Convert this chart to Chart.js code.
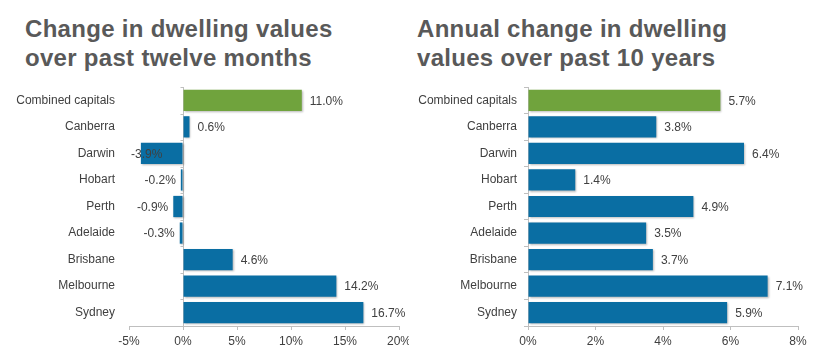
<!DOCTYPE html>
<html>
<head>
<meta charset="utf-8">
<script src="https://cdn.jsdelivr.net/npm/chart.js@4"></script>
<style>
  html, body { margin: 0; padding: 0; background: #fff; }
  body { width: 818px; height: 357px; position: relative; overflow: hidden; }
  .title { position: absolute; top: 14px; font-family: "Liberation Sans", Arial, sans-serif; font-weight: bold; font-size: 24px; line-height: 29px; letter-spacing: 0.3px; color: #595959; white-space: nowrap; }
  .box { position: absolute; top: 80px; width: 409px; height: 277px; }
</style>
</head>
<body>
<div class="title" style="left:25px">Change in dwelling values<br>over past twelve months</div>
<div class="title" style="left:417px">Annual change in dwelling<br>values over past 10 years</div>
<div class="box" style="left:0px"><canvas id="c1"></canvas></div>
<div class="box" style="left:409px"><canvas id="c2"></canvas></div>
<script>
const categories = ["Combined capitals", "Canberra", "Darwin", "Hobart", "Perth", "Adelaide", "Brisbane", "Melbourne", "Sydney"];
const twelveMonthChange = [11.0, 0.6, -3.9, -0.2, -0.9, -0.3, 4.6, 14.2, 16.7];
const tenYearAnnualChange = [5.7, 3.8, 6.4, 1.4, 4.9, 3.5, 3.7, 7.1, 5.9];
const leftTicks = [-5, 0, 5, 10, 15, 20];
const rightTicks = [0, 2, 4, 6, 8];

const BLUE = '#0A6EA3';
const GREEN = '#70A33D';
const AXIS = '#BFBFBF';
const TEXT = '#404040';
const FONT = { family: '"Liberation Sans", Arial, sans-serif', size: 12 };

const barColors = categories.map((c, i) => i === 0 ? GREEN : BLUE);

const shadowPlugin = {
  id: 'shadow',
  beforeDatasetDraw(chart) {
    const ctx = chart.ctx;
    ctx.save();
    ctx.shadowColor = 'rgba(0,0,0,0.28)';
    ctx.shadowBlur = 2;
    ctx.shadowOffsetX = 1;
    ctx.shadowOffsetY = 1;
  },
  afterDatasetDraw(chart) { chart.ctx.restore(); }
};

const valueLabels = {
  id: 'valueLabels',
  afterDatasetsDraw(chart) {
    const ctx = chart.ctx;
    const area = chart.chartArea;
    const meta = chart.getDatasetMeta(0);
    const data = chart.data.datasets[0].data;
    ctx.save();
    ctx.font = '12px ' + FONT.family;
    ctx.fillStyle = TEXT;
    ctx.textBaseline = 'middle';
    meta.data.forEach((bar, i) => {
      const v = data[i];
      const txt = v.toFixed(1) + '%';
      const w = ctx.measureText(txt).width;
      if (v >= 0) {
        ctx.textAlign = 'left';
        ctx.fillText(txt, bar.x + 8, bar.y + 1);
      } else {
        let right = bar.x - 5;
        if (right - w < area.left + 2) right = area.left + 2 + w;
        ctx.textAlign = 'right';
        ctx.fillText(txt, right, bar.y + 1);
      }
    });
    ctx.restore();
  }
};

const zeroTicks = {
  id: 'zeroTicks',
  afterDraw(chart) {
    const ctx = chart.ctx;
    const xs = chart.scales.x, ys = chart.scales.y;
    const x0 = Math.round(xs.getPixelForValue(0)) + 0.5;
    ctx.save();
    ctx.strokeStyle = AXIS;
    ctx.lineWidth = 1;
    ctx.beginPath();
    for (let i = 0; i <= categories.length; i++) {
      const y = Math.round(ys.getPixelForValue(i - 0.5)) + 0.5;
      ctx.moveTo(x0 - 3, y);
      ctx.lineTo(x0, y);
    }
    ctx.stroke();
    ctx.restore();
  }
};

function makeChart(id, values, ticks, yWidth, padRight, isLeft) {
  return new Chart(document.getElementById(id), {
    type: 'bar',
    data: {
      labels: categories,
      datasets: [{ data: values, backgroundColor: barColors, borderWidth: 0, categoryPercentage: 0.8, barPercentage: 1.0 }]
    },
    options: {
      indexAxis: 'y',
      responsive: true,
      maintainAspectRatio: false,
      animation: false,
      layout: { autoPadding: false, padding: { top: 7, right: padRight, left: 0, bottom: 0 } },
      plugins: { legend: { display: false }, tooltip: { enabled: false } },
      scales: {
        x: {
          type: 'linear',
          min: ticks[0], max: ticks[ticks.length - 1],
          afterBuildTicks(scale) { scale.ticks = ticks.map(v => ({ value: v })); },
          afterFit(scale) { scale.height = 31; scale.paddingLeft = 0; scale.paddingRight = 0; },
          border: { display: true, color: AXIS },
          grid: {
            display: true,
            drawOnChartArea: isLeft,
            color: ctx => (isLeft && ctx.tick && ctx.tick.value === 0) ? AXIS : 'rgba(0,0,0,0)',
            tickColor: AXIS,
            tickLength: 4
          },
          ticks: { font: FONT, color: TEXT, padding: 4, callback: v => v + '%' }
        },
        y: {
          afterFit(scale) { scale.width = yWidth; scale.paddingTop = 0; scale.paddingBottom = 0; },
          border: { display: !isLeft, color: AXIS },
          grid: { display: !isLeft, offset: true, drawOnChartArea: false, drawTicks: !isLeft, tickLength: 4, color: AXIS },
          ticks: { font: FONT, color: TEXT, padding: isLeft ? 14 : 7 }
        }
      }
    },
    plugins: isLeft ? [shadowPlugin, valueLabels, zeroTicks] : [shadowPlugin, valueLabels]
  });
}

makeChart('c1', twelveMonthChange, leftTicks, 129, 10, true);
makeChart('c2', tenYearAnnualChange, rightTicks, 119, 20, false);
</script>
</body>
</html>
